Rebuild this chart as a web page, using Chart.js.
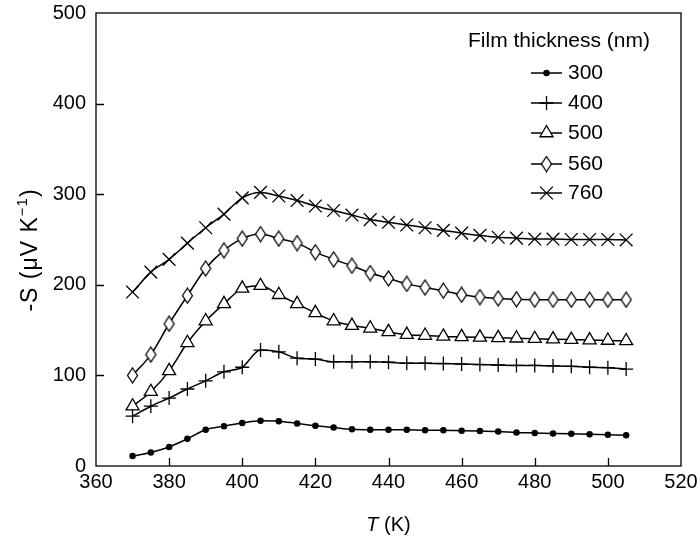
<!DOCTYPE html>
<html>
<head>
<meta charset="utf-8">
<script src="https://cdn.jsdelivr.net/npm/chart.js@4.4.1/dist/chart.umd.min.js"></script>
<style>
html,body{margin:0;padding:0;background:#fff;}
</style>
</head>
<body>
<canvas id="seebeck" width="700" height="546"></canvas>
<script>
// temperature (K) and -S (uV/K) for each film thickness
const temps = [370,375,380,385,390,395,400,405,410,415,420,425,430,435,440,445,450,455,460,465,470,475,480,485,490,495,500,505];
const s300 = [11,15,21,30,40,44,47.5,50,49.5,47,44.5,42.5,40.5,40,40,40,39.5,39.5,39,38.5,38,37,36.5,36,35.5,35,34.5,34];
const s400 = [55,66,75,85,94,104,109,128,126,119,118,115,115,115,114.5,113.5,113.5,113,112.5,112,111.5,111,111,110.5,110,109,108.5,107];
const s500 = [66,82,105,136,160,179,196,199,189,179,169,160,155,152,148,145,144,143,142.5,142,141.5,141,140.5,140,139.5,139,138.5,138];
const s560 = [100,123,157,188,218,238,251,256,251,246,236,228,221,213,207,201,197,193.5,189,186.5,185,184,183.5,183.5,183.5,183.5,183.5,183.5];
const s760 = [192,214,228,246,263,278,296,302,298,293,287,282,277,272,269,266,263,260,257,254.5,252.5,251.5,250.5,250.5,250,250,250,249.5];
const thickness = ["300","400","500","560","760"];
const xTicks = [360,380,400,420,440,460,480,500,520];
const yTicks = [0,100,200,300,400,500];

const FONT = "Liberation Sans";

function diamondMarker(){
    const c = document.createElement("canvas");
    c.width = 13; c.height = 17;
    const g = c.getContext("2d");
    g.beginPath();
    g.moveTo(6.5,1); g.lineTo(11.5,8.5); g.lineTo(6.5,16); g.lineTo(1.5,8.5); g.closePath();
    g.fillStyle = "#fff"; g.fill();
    g.lineWidth = 1.3; g.strokeStyle = "#000"; g.stroke();
    return c;
}

const markers = [
    { pointStyle:"circle", radius:2.6, bg:"#000" },
    { pointStyle:"cross", radius:7, bg:"#000" },
    { pointStyle:"triangle", radius:7.5, bg:"#fff" },
    { pointStyle:diamondMarker(), radius:7, bg:"#fff" },
    { pointStyle:"crossRot", radius:9, bg:"#000" }
];

const series = [s300, s400, s500, s560, s760];

const datasets = series.map((vals, i) => ({
    label: thickness[i],
    data: temps.map((t, j) => ({ x:t, y:vals[j] })),
    borderColor: "#000",
    borderWidth: 1.5,
    cubicInterpolationMode: "monotone",
    pointStyle: markers[i].pointStyle,
    pointRadius: markers[i].radius,
    pointHoverRadius: markers[i].radius,
    pointBackgroundColor: markers[i].bg,
    pointBorderColor: "#000",
    pointBorderWidth: 1.3
}));

// frame, inward ticks, axis titles and legend
const decorations = {
    id: "decorations",
    afterDraw(chart){
        const ctx = chart.ctx;
        const a = chart.chartArea;
        const xs = chart.scales.x, ys = chart.scales.y;
        ctx.save();
        ctx.strokeStyle = "#000";
        ctx.lineWidth = 1.3;
        ctx.strokeRect(a.left, a.top, a.right - a.left, a.bottom - a.top);

        ctx.beginPath();
        xTicks.slice(1, -1).forEach(v => {
            const px = Math.round(xs.getPixelForValue(v)) + 0.5;
            ctx.moveTo(px, a.bottom); ctx.lineTo(px, a.bottom - 8);
        });
        yTicks.slice(1, -1).forEach(v => {
            const py = Math.round(ys.getPixelForValue(v)) + 0.5;
            ctx.moveTo(a.left, py); ctx.lineTo(a.left + 8, py);
        });
        ctx.stroke();

        // x title: italic T
        ctx.fillStyle = "#000";
        ctx.textBaseline = "middle";
        ctx.textAlign = "left";
        const fItal = "italic 20px " + FONT, fNorm = "20px " + FONT;
        ctx.font = fItal; const wT = ctx.measureText("T").width;
        ctx.font = fNorm; const wK = ctx.measureText(" (K)").width;
        let tx = (a.left + a.right) / 2 - (wT + wK) / 2;
        ctx.font = fItal; ctx.fillText("T", tx, 525);
        ctx.font = fNorm; ctx.fillText(" (K)", tx + wT, 525);

        // y title with superscript
        ctx.save();
        ctx.translate(31, 250);
        ctx.rotate(-Math.PI / 2);
        ctx.letterSpacing = "1px";
        const fBig = "23px " + FONT, fSup = "15px " + FONT;
        const p1 = "-S (\u03bcV K", p2 = "\u22121", p3 = ")";
        ctx.font = fBig; const w1 = ctx.measureText(p1).width, w3 = ctx.measureText(p3).width;
        ctx.font = fSup; const w2 = ctx.measureText(p2).width;
        let sx = -(w1 + w2 + w3) / 2;
        ctx.font = fBig; ctx.fillText(p1, sx, 0);
        ctx.font = fSup; ctx.fillText(p2, sx + w1, -8);
        ctx.font = fBig; ctx.fillText(p3, sx + w1 + w2, 0);
        ctx.restore();

        // legend
        ctx.font = "21px " + FONT;
        ctx.fillText("Film thickness (nm)", 468, 41);
        const rows = [73, 103, 133, 164, 193];
        chart.data.datasets.forEach((ds, i) => {
            const y = rows[i];
            ctx.beginPath();
            ctx.lineWidth = 1.5;
            ctx.moveTo(531, y); ctx.lineTo(562, y);
            ctx.stroke();
            ctx.fillStyle = ds.pointBackgroundColor;
            ctx.strokeStyle = "#000";
            ctx.lineWidth = ds.pointBorderWidth;
            Chart.helpers.drawPoint(ctx, {
                pointStyle: ds.pointStyle, radius: ds.pointRadius,
                borderWidth: ds.pointBorderWidth, rotation: 0
            }, 546.5, y);
            ctx.fillStyle = "#000";
            ctx.font = "21px " + FONT;
            ctx.fillText(ds.label, 568, y);
        });
        ctx.restore();
    }
};

new Chart(document.getElementById("seebeck"), {
    type: "line",
    data: { datasets },
    options: {
        responsive: false,
        animation: false,
        layout: { padding: { top: 13, right: 19, left: 0, bottom: 0 } },
        plugins: { legend: { display:false }, tooltip: { enabled:false } },
        scales: {
            x: {
                type: "linear",
                min: 360, max: 520,
                afterBuildTicks: s => { s.ticks = xTicks.map(v => ({ value:v })); },
                afterFit: s => { s.height = 80; s.paddingLeft = 0; s.paddingRight = 0; },
                ticks: { color:"#000", font:{ family:FONT, size:20 }, padding:4, maxRotation:0 },
                grid: { drawOnChartArea:false, drawTicks:false },
                border: { display:false }
            },
            y: {
                min: 0, max: 500,
                afterBuildTicks: s => { s.ticks = yTicks.map(v => ({ value:v })); },
                afterFit: s => { s.width = 96; s.paddingTop = 0; s.paddingBottom = 0; },
                ticks: { color:"#000", font:{ family:FONT, size:20 }, padding:10 },
                grid: { drawOnChartArea:false, drawTicks:false },
                border: { display:false }
            }
        }
    },
    plugins: [decorations]
});
</script>
</body>
</html>
